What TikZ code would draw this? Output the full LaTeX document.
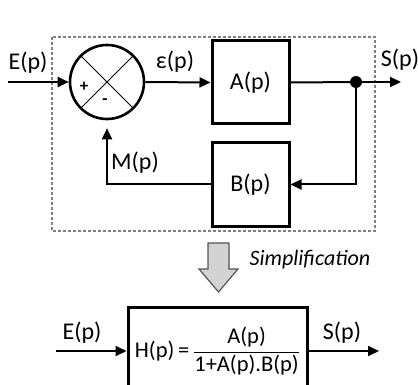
\documentclass[tikz,border=0pt]{standalone}
\usepackage{amsmath}
\usepackage{fontspec}
\setmainfont{Carlito}
\usetikzlibrary{arrows.meta, calc}
\definecolor{framegray}{HTML}{808080}
\definecolor{arrowgray}{HTML}{D3D3D3}
\definecolor{arrowedge}{HTML}{555555}

\begin{document}
\begin{tikzpicture}[
  x=1pt, y=-1pt,
  blocbox/.style={rectangle, draw, line width=3pt, minimum width=77pt,
    minimum height=83pt, font=\fontsize{24}{28}\selectfont, inner sep=0pt},
  sumnode/.style={circle, draw, line width=2.6pt, minimum size=74pt, inner sep=0pt},
  lbl/.style={font=\fontsize{24}{28}\selectfont, inner sep=0pt},
  sign/.style={font=\bfseries\fontsize{17}{18}\selectfont, inner sep=0pt},
  sig/.style={line width=2pt},
  arr/.style={-{Triangle[length=11pt,width=10pt]}, line width=2pt},
]
  \clip (0,0) rectangle (418,385);
  % closed loop
  \draw[framegray, line width=1.2pt, dash pattern=on 3pt off 2pt] (52,37) rectangle (375,231);
  \node[sumnode] (sum) at (107,82) {};
  \draw[line width=1pt] ($(sum.center)+(-26,-26)$) -- ($(sum.center)+(26,26)$);
  \draw[line width=1pt] ($(sum.center)+(-26,26)$) -- ($(sum.center)+(26,-26)$);
  \node[sign] (plus) at (84,87) {+};
  \node[sign] (minus) at (105,102) {-};
  \node[blocbox] (bloA) at (250.5,82.5) {A(p)};
  \node[blocbox] (bloB) at (250.5,184.5) {B(p)};
  \node[circle, fill, inner sep=0pt, minimum size=12pt] (dot) at (356,82) {};
  \coordinate (in) at (8,82);
  \coordinate (out) at (401,82);
  \draw[arr] (in) -- (sum.west);
  \draw[arr] (sum.east) -- (bloA.west);
  \draw[sig] (bloA.east) -- (dot.center);
  \draw[arr] (dot.center) -- (out);
  \draw[arr] (dot.center) |- (bloB.east);
  \draw[arr, shorten >=8pt] (bloB.west) -| (sum.south);
  \node[lbl] (lblE) at (28,63) {E(p)};
  \node[lbl] (lblEps) at (175,62) {ε(p)};
  \node[lbl] (lblS) at (400,60) {S(p)};
  \node[lbl] (lblM) at (135,163) {M(p)};
  % simplification
  \draw[arrowedge, fill=arrowgray, line width=1.2pt] (208,243) -- (229,243) -- (229,269)
    -- (238,269) -- (218.5,292) -- (199,269) -- (208,269) -- cycle;
  \node[lbl, font=\itshape\fontsize{22}{26}\selectfont] (lblSimp) at (310,260) {Simplification};
  \node[blocbox, minimum width=179pt, minimum height=88pt, font=\fontsize{22.5}{26}\selectfont]
    (bloH) at (217.5,351) {$\text{H(p)\,=\,}\dfrac{\text{A(p)}}{\text{1+A(p).B(p)}}$};
  \coordinate (inH) at (56,351);
  \coordinate (outH) at (379,351);
  \draw[arr] (inH) -- (bloH.west);
  \draw[arr] (bloH.east) -- (outH);
  \node[lbl] (lblEH) at (82,333) {E(p)};
  \node[lbl] (lblSH) at (342,333) {S(p)};
\end{tikzpicture}
\end{document}
